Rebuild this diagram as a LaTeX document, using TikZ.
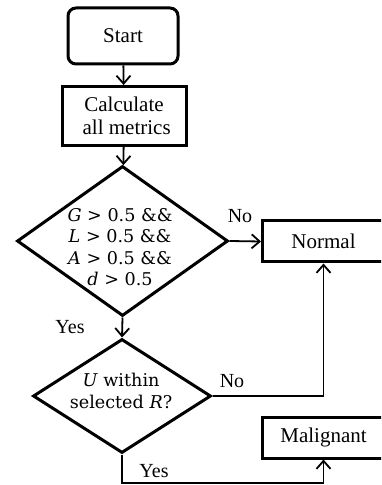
\documentclass[tikz,border=0pt]{standalone}
\usepackage{fontspec}
\setmainfont{Liberation Serif}
\newfontfamily\condfont{DejaVu Serif}
\usetikzlibrary{arrows.meta,shapes.geometric}

\begin{document}
\begin{tikzpicture}[
  x=0.5pt, y=-0.5pt,
  font=\fontsize{10}{11.5}\selectfont,
  box/.style={draw, line width=1.5pt, minimum height=20.5pt, align=center, inner sep=0pt,
    font=\fontsize{10.5}{11.5}\selectfont},
  startbox/.style={box, rounded corners=4pt, minimum width=55pt, minimum height=28pt},
  decision/.style={draw, diamond, line width=1.5pt, inner sep=0pt},
  cond/.style={font=\condfont\fontsize{8.8}{10.6}\selectfont, align=center},
  line/.style={-{Straight Barb[length=4pt,width=7pt]}, line width=0.9pt}
]
\useasboundingbox (0,0) rectangle (381,485);
\clip (0,0) rectangle (381,485);

\node[startbox] (start) at (123,36) {Start};
\node[box, minimum width=62pt, minimum height=29.5pt] (calc) at (124,116) {Calculate\\ \ all metrics};
\node[decision, minimum width=105.5pt, minimum height=75pt] (d1) at (122.5,241) {};
\node[cond] (c1) at (120,247) {\textit{G} > 0.5 \&\&\\ \textit{L} > 0.5 \&\&\\ \textit{A} > 0.5 \&\&\\ \textit{d} > 0.5};
\node[decision, minimum width=89pt, minimum height=57pt] (d2) at (122,396) {};
\node[cond] (c2) at (121,391) {\textit{U} within\\ selected \textit{R}?};
\node[box, minimum width=61pt] (normal) at (323.5,241.5) {Normal};
\node[box, minimum width=61pt] (malig) at (323.5,437.5) {Malignant};
\coordinate (bend) at (122,483);

\node (no1) at (240,216) {No};
\node (no2) at (232,381) {No};
\node (yes1) at (70,327) {Yes};
\node (yes2) at (154,471) {Yes};

\draw[line] (start) -- (calc);
\draw[line] (calc) -- (d1);
\draw[line] (d1.east) -- (normal.west);
\draw[line] (d1.south) -- (d2.north);
\draw[line] (d2.east) -| (normal.south);
\draw[line] (d2.south) -- (bend) -| (malig.south);
\end{tikzpicture}
\end{document}
